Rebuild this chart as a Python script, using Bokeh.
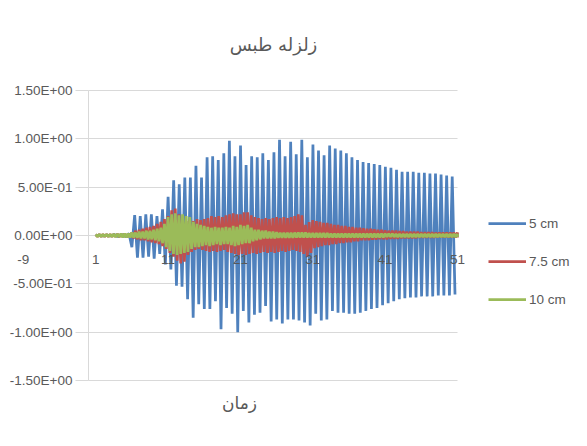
import numpy as np
from bokeh.plotting import figure
from bokeh.models import (Range1d, FixedTicker, Legend, LegendItem, Label, Grid)
from bokeh.embed import file_html
from bokeh.resources import INLINE

# ---------------- data ----------------
title_text = "زلزله طبس"
x_title = "زمان"
series_names = ["5 cm", "7.5 cm", "10 cm"]
series_colors = ["#4F81BD", "#C0504D", "#9BBB59"]

y_ticks = [-1.5, -1.0, -0.5, 0.0, 0.5, 1.0, 1.5]
y_tick_labels = ["-1.50E+00", "-1.00E+00", "-5.00E-01", "0.00E+00",
                 "5.00E-01", "1.00E+00", "1.50E+00"]
x_ticks = [-9, 1, 11, 21, 31, 41, 51]
x_tick_labels = ["-9", "1", "11", "21", "31", "41", "51"]

# 5 cm : quiet start, then one peak / trough per cycle
blue_lead = [0.0, 0.005, -0.005, 0.005, -0.005, 0.01, -0.01, 0.01, -0.01, 0.02]
blue_peaks = [0.21, 0.20, 0.22, 0.22, 0.20, 0.27, 0.40, 0.57, 0.53, 0.60,
              0.60, 0.72, 0.60, 0.81, 0.82, 0.78, 0.85, 0.98, 0.82, 0.93,
              0.73, 0.82, 0.81, 0.85, 0.78, 0.86, 0.99, 0.82, 0.97, 0.84,
              0.99, 0.81, 0.94, 0.88, 0.83, 0.93, 0.90, 0.88, 0.85, 0.81,
              0.78, 0.76, 0.75, 0.74, 0.73, 0.71, 0.70, 0.68, 0.66, 0.66,
              0.66, 0.65, 0.65, 0.64, 0.64, 0.63, 0.62, 0.61]
blue_troughs = [-0.12, -0.23, -0.23, -0.22, -0.24, -0.19, -0.30, -0.35, -0.52, -0.53,
                -0.66, -0.85, -0.71, -0.76, -0.76, -0.68, -0.97, -0.75, -0.81, -1.00,
                -0.78, -0.90, -0.82, -0.80, -0.73, -0.89, -0.87, -0.91, -0.87, -0.87,
                -0.88, -0.90, -0.93, -0.81, -0.88, -0.87, -0.78, -0.80, -0.80, -0.81,
                -0.81, -0.80, -0.78, -0.76, -0.75, -0.72, -0.70, -0.68, -0.66, -0.65,
                -0.64, -0.64, -0.63, -0.63, -0.63, -0.62, -0.62, -0.62, -0.61]

# 7.5 cm : upper / lower swings every half time unit from 1 to 51
red_upper = [0.01, 0.01, 0.01, 0.01, 0.01, 0.01, 0.015, 0.015, 0.02, 0.02,
             0.03, 0.05, 0.06, 0.07, 0.08, 0.09, 0.10, 0.12, 0.14, 0.17,
             0.20, 0.26, 0.28, 0.22, 0.17, 0.15, 0.16, 0.15, 0.17, 0.16,
             0.17, 0.18, 0.20, 0.19, 0.20, 0.19, 0.21, 0.22, 0.23, 0.22,
             0.22, 0.24, 0.24, 0.21, 0.19, 0.18, 0.17, 0.18, 0.17, 0.18,
             0.19, 0.18, 0.19, 0.18, 0.19, 0.20, 0.22, 0.21, 0.11, 0.14,
             0.16, 0.15, 0.14, 0.13, 0.13, 0.12, 0.11, 0.11, 0.10, 0.10,
             0.09, 0.09, 0.08, 0.08, 0.075, 0.07, 0.07, 0.065, 0.06, 0.06,
             0.055, 0.05, 0.05, 0.05, 0.045, 0.045, 0.04, 0.04, 0.04, 0.04,
             0.035, 0.035, 0.035, 0.035, 0.03, 0.03, 0.03, 0.03, 0.03, 0.03,
             0.03]
red_lower = [-0.01, -0.01, -0.01, -0.01, -0.01, -0.01, -0.015, -0.015, -0.02, -0.02,
             -0.03, -0.04, -0.05, -0.05, -0.06, -0.07, -0.08, -0.09, -0.11, -0.14,
             -0.18, -0.22, -0.26, -0.29, -0.27, -0.20, -0.17, -0.15, -0.14, -0.15,
             -0.16, -0.17, -0.16, -0.17, -0.16, -0.15, -0.17, -0.18, -0.19, -0.20,
             -0.19, -0.20, -0.19, -0.18, -0.19, -0.18, -0.17, -0.18, -0.17, -0.18,
             -0.17, -0.16, -0.17, -0.16, -0.15, -0.16, -0.17, -0.19, -0.22, -0.18,
             -0.13, -0.12, -0.11, -0.10, -0.10, -0.09, -0.09, -0.08, -0.08, -0.07,
             -0.07, -0.06, -0.06, -0.05, -0.05, -0.05, -0.045, -0.045, -0.04, -0.04,
             -0.04, -0.035, -0.035, -0.035, -0.03, -0.03, -0.03, -0.03, -0.03, -0.025,
             -0.025, -0.025, -0.025, -0.025, -0.02, -0.02, -0.02, -0.02, -0.02, -0.02,
             -0.02]

# 10 cm
green_upper = [0.01, 0.01, 0.01, 0.012, 0.012, 0.015, 0.015, 0.02, 0.02, 0.02,
               0.03, 0.03, 0.04, 0.04, 0.05, 0.05, 0.06, 0.07, 0.08, 0.12,
               0.19, 0.22, 0.23, 0.21, 0.22, 0.20, 0.19, 0.14, 0.12, 0.11,
               0.10, 0.09, 0.08, 0.09, 0.08, 0.08, 0.09, 0.08, 0.10, 0.09,
               0.11, 0.10, 0.11, 0.08, 0.06, 0.06, 0.05, 0.05, 0.04, 0.04,
               0.035, 0.03, 0.03, 0.03, 0.03, 0.03, 0.03, 0.03, 0.03, 0.025,
               0.025, 0.025, 0.025, 0.025, 0.025, 0.02, 0.02, 0.02, 0.02, 0.02,
               0.02, 0.02, 0.02, 0.02, 0.02, 0.02, 0.02, 0.02, 0.02, 0.02,
               0.02, 0.02, 0.02, 0.015, 0.015, 0.015, 0.015, 0.015, 0.015, 0.015,
               0.015, 0.015, 0.015, 0.015, 0.015, 0.015, 0.015, 0.015, 0.015, 0.015,
               0.015]
green_lower = [-0.01, -0.01, -0.01, -0.012, -0.012, -0.015, -0.015, -0.02, -0.02, -0.02,
               -0.02, -0.025, -0.03, -0.03, -0.04, -0.04, -0.05, -0.06, -0.08, -0.12,
               -0.16, -0.19, -0.20, -0.19, -0.18, -0.17, -0.14, -0.12, -0.12, -0.11,
               -0.10, -0.11, -0.10, -0.09, -0.10, -0.09, -0.09, -0.10, -0.11, -0.10,
               -0.09, -0.08, -0.08, -0.06, -0.05, -0.04, -0.03, -0.03, -0.03, -0.03,
               -0.025, -0.025, -0.025, -0.025, -0.025, -0.02, -0.02, -0.02, -0.02, -0.02,
               -0.02, -0.02, -0.02, -0.02, -0.02, -0.02, -0.02, -0.02, -0.02, -0.02,
               -0.02, -0.02, -0.02, -0.02, -0.02, -0.02, -0.02, -0.02, -0.02, -0.02,
               -0.015, -0.015, -0.015, -0.015, -0.015, -0.015, -0.015, -0.015, -0.015, -0.015,
               -0.015, -0.015, -0.015, -0.015, -0.015, -0.015, -0.015, -0.015, -0.015, -0.015,
               -0.015]

# ---------------- build series ----------------
def interleave(a, b):
    out = []
    for i in range(max(len(a), len(b))):
        if i < len(a):
            out.append(a[i])
        if i < len(b):
            out.append(b[i])
    return out

blue_osc = interleave(blue_troughs, blue_peaks)
blue_t = list(np.linspace(1.0, 5.6, len(blue_lead))) + list(np.linspace(6.0, 50.66, len(blue_osc)))
blue_v = blue_lead + blue_osc

knots = np.linspace(1.0, 51.0, len(red_upper))
swing_t = interleave(list(knots), list(np.minimum(knots + 0.25, 51.0)))
red_v = interleave(red_upper, red_lower)
green_v = interleave(green_upper, green_lower)

# ---------------- figure ----------------
FONT = "Liberation Sans"
ARFONT = "DejaVu Sans"
TXT = "#595959"
GRID = "#D9D9D9"

y_lo, y_hi = min(y_ticks), max(y_ticks)
x_lo, x_hi = 0.0, max(x_ticks)

# the frame fills the whole figure; axes float at x = 0 and y = 0
p = figure(width=578, height=438, output_backend="svg", toolbar_location=None,
           x_range=Range1d(-12.16, 67.73), y_range=Range1d(-2.100, 2.431),
           min_border=0)
p.outline_line_color = None
p.background_fill_color = "white"
p.border_fill_color = "white"

# y axis
yax = p.yaxis[0]
yax.fixed_location = 0
yax.bounds = (y_lo, y_hi)
yax.ticker = FixedTicker(ticks=y_ticks)
yax.major_label_overrides = {t: l for t, l in zip(y_ticks, y_tick_labels)}
yax.major_label_text_font = FONT
yax.major_label_text_font_size = "13.5px"
yax.major_label_text_color = TXT
yax.axis_line_color = GRID
yax.major_tick_line_color = GRID
yax.major_tick_out = 13
yax.major_tick_in = 0
yax.minor_tick_line_color = None
yax.major_label_standoff = 3

# x axis (labels only) along the zero line
xax = p.xaxis[0]
xax.fixed_location = 0
xax.ticker = FixedTicker(ticks=x_ticks)
xax.major_label_overrides = {t: l for t, l in zip(x_ticks, x_tick_labels)}
xax.major_label_text_font = FONT
xax.major_label_text_font_size = "13.5px"
xax.major_label_text_color = TXT
xax.axis_line_color = None
xax.major_tick_line_color = None
xax.minor_tick_line_color = None
xax.major_tick_out = 0
xax.major_tick_in = 0
xax.major_label_standoff = 20

# horizontal grid lines, only across the plot area
p.xgrid.grid_line_color = None
if "cross_bounds" in Grid.properties():
    p.ygrid.ticker = FixedTicker(ticks=y_ticks)
    p.ygrid.cross_bounds = (x_lo, x_hi)
    p.ygrid.grid_line_color = GRID
else:
    p.ygrid.grid_line_color = None
    p.segment(x0=[x_lo] * len(y_ticks), x1=[x_hi] * len(y_ticks),
              y0=y_ticks, y1=y_ticks, line_color=GRID, line_width=1,
              level="underlay")

lw = 2.75
r_blue = p.line(blue_t, blue_v, line_color=series_colors[0], line_width=lw)
r_red = p.line(swing_t, red_v, line_color=series_colors[1], line_width=lw)
r_green = p.line(swing_t, green_v, line_color=series_colors[2], line_width=lw)

# chart title and axis title
p.add_layout(Label(x=25.57, y=1.976, text=title_text, text_align="center",
                   text_baseline="middle", text_font=ARFONT,
                   text_font_size="18px", text_color=TXT))
p.add_layout(Label(x=20.87, y=-1.735, text=x_title, text_align="center",
                   text_baseline="middle", text_font=ARFONT,
                   text_font_size="17px", text_color=TXT))

legend = Legend(items=[LegendItem(label=series_names[0], renderers=[r_blue]),
                       LegendItem(label=series_names[1], renderers=[r_red]),
                       LegendItem(label=series_names[2], renderers=[r_green])],
                location=(488, 129), orientation="vertical",
                glyph_width=38, glyph_height=20, label_height=20, spacing=18,
                padding=5, margin=0, label_standoff=3,
                border_line_color=None, background_fill_alpha=0,
                label_text_font=FONT, label_text_font_size="13.5px",
                label_text_color=TXT)
p.add_layout(legend, "center")

open("out.html", "w").write(file_html(p, INLINE))
